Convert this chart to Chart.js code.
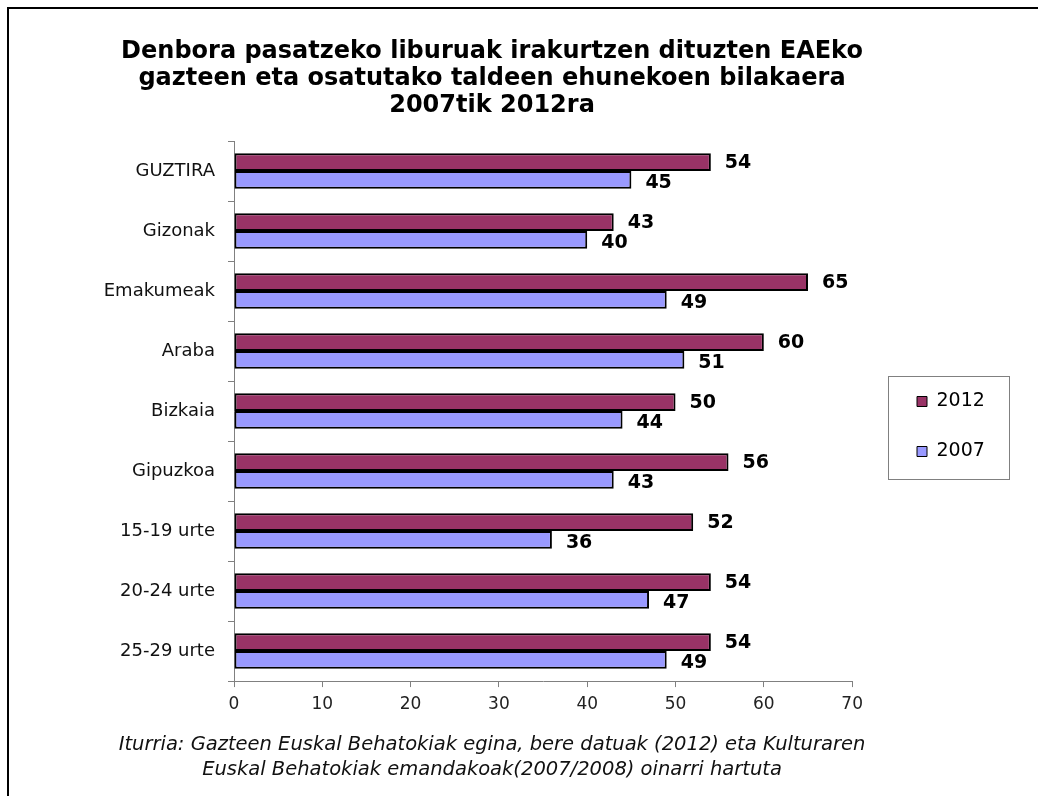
<!DOCTYPE html>
<html>
<head>
<meta charset="utf-8">
<script src="https://cdn.jsdelivr.net/npm/chart.js@4.4.1/dist/chart.umd.min.js"></script>
<style>
  html, body { margin: 0; padding: 0; background: #fff; }
  #frame {
    position: absolute; left: 7px; top: 7px; width: 1031px; height: 789px;
    border-top: 2px solid #000; border-left: 2px solid #000; box-sizing: border-box;
  }
  #wrap { position: absolute; left: 0; top: 0; width: 1038px; height: 796px; }
</style>
</head>
<body>
<div id="frame"></div>
<div id="wrap"><canvas id="chart" width="1038" height="796"></canvas></div>
<script>
// data
const groups = ["GUZTIRA", "Gizonak", "Emakumeak", "Araba", "Bizkaia", "Gipuzkoa",
                "15-19 urte", "20-24 urte", "25-29 urte"];
const values_2012 = [54, 43, 65, 60, 50, 56, 52, 54, 54];
const values_2007 = [45, 40, 49, 51, 44, 43, 36, 47, 49];
const x_ticks = [0, 10, 20, 30, 40, 50, 60, 70];

const title_lines = [
  "Denbora pasatzeko liburuak irakurtzen dituzten EAEko",
  "gazteen eta osatutako taldeen ehunekoen bilakaera",
  "2007tik 2012ra"
];
const source_lines = [
  "Iturria: Gazteen Euskal Behatokiak egina, bere datuak (2012) eta Kulturaren",
  "Euskal Behatokiak emandakoak(2007/2008) oinarri hartuta"
];

const FONT = "'DejaVu Sans', Verdana, sans-serif";
const LEGEND_PAD = 31;
const LEGEND_X = 917;   // left edge of the first legend square
const LEGEND_TOP = 392; // top of the first legend row

// value labels at the end of every bar
const valueLabels = {
  id: "valueLabels",
  afterDatasetsDraw(chart) {
    const ctx = chart.ctx;
    ctx.save();
    ctx.font = "bold 19px " + FONT;
    ctx.fillStyle = "#000";
    ctx.textBaseline = "middle";
    ctx.textAlign = "left";
    chart.data.datasets.forEach((ds, di) => {
      chart.getDatasetMeta(di).data.forEach((bar, i) => {
        ctx.fillText(ds.data[i], bar.x + 14, bar.y + (di === 0 ? 1 : 3));
      });
    });
    ctx.restore();
  }
};

// place the legend like in the reference and frame it
const legendFrame = {
  id: "legendFrame",
  afterLayout(chart) {
    const lg = chart.legend;
    const dx = LEGEND_X - (lg.left + LEGEND_PAD);
    const dy = LEGEND_TOP - (lg.top + LEGEND_PAD);
    lg.left += dx; lg.right += dx;
    lg.top += dy; lg.bottom += dy;
  },
  afterDraw(chart) {
    const boxes = chart.legend.legendHitBoxes;
    if (!boxes.length) return;
    const first = boxes[0], last = boxes[boxes.length - 1];
    const left = LEGEND_X - 29;
    const right = LEGEND_X + 92;
    const top = first.top + first.height / 2 - 26;
    const bottom = last.top + last.height / 2 + 27;
    const ctx = chart.ctx;
    ctx.save();
    ctx.strokeStyle = "#808080";
    ctx.lineWidth = 1;
    ctx.strokeRect(Math.round(left) + 0.5, Math.round(top) + 0.5,
                   Math.round(right - left), Math.round(bottom - top));
    ctx.restore();
  }
};

new Chart(document.getElementById("chart"), {
  type: "bar",
  data: {
    labels: groups,
    datasets: [
      {
        label: "2012",
        data: values_2012,
        backgroundColor: "#993366",
        borderColor: "#000000",
        borderWidth: 2,
        borderSkipped: false,
        categoryPercentage: 0.59,
        barPercentage: 1.0
      },
      {
        label: "2007",
        data: values_2007,
        backgroundColor: "#9999FF",
        borderColor: "#000000",
        borderWidth: 2,
        borderSkipped: false,
        categoryPercentage: 0.59,
        barPercentage: 1.0
      }
    ]
  },
  options: {
    indexAxis: "y",
    responsive: false,
    animation: false,
    layout: { padding: { left: 23, right: 77, top: 0, bottom: 0 } },
    scales: {
      x: {
        min: 0,
        max: 70,
        afterBuildTicks: (scale) => { scale.ticks = x_ticks.map(v => ({ value: v })); },
        afterFit: (scale) => { scale.height = 40; },
        grid: { drawOnChartArea: false, drawTicks: true, tickLength: 6, color: "#808080" },
        border: { color: "#808080", width: 1 },
        ticks: { color: "#222", font: { family: FONT, size: 17 }, padding: 7 }
      },
      y: {
        afterFit: (scale) => { scale.width = 211; },
        grid: { drawOnChartArea: false, drawTicks: true, tickLength: 6, color: "#808080", offset: true },
        border: { color: "#808080", width: 1 },
        ticks: { color: "#111", font: { family: FONT, size: 18 }, padding: 13 }
      }
    },
    plugins: {
      legend: {
        position: "right",
        align: "start",
        labels: {
          boxWidth: 10,
          boxHeight: 10,
          color: "#111",
          font: { family: FONT, size: 19 },
          padding: LEGEND_PAD,
          generateLabels: (chart) => chart.data.datasets.map((ds, i) => ({
            text: ds.label,
            fillStyle: ds.backgroundColor,
            strokeStyle: "#000",
            lineWidth: 1,
            datasetIndex: i
          }))
        }
      },
      title: {
        display: true,
        text: title_lines,
        color: "#000",
        font: { family: FONT, size: 24, weight: "bold", lineHeight: 1.125 },
        padding: { top: 38, bottom: 22 }
      },
      subtitle: {
        display: true,
        position: "bottom",
        text: source_lines,
        color: "#111",
        font: { family: FONT, size: 19.5, style: "italic", lineHeight: 1.28 },
        padding: { top: 11, bottom: 14 }
      },
      tooltip: { enabled: false }
    }
  },
  plugins: [valueLabels, legendFrame]
});
</script>
</body>
</html>
